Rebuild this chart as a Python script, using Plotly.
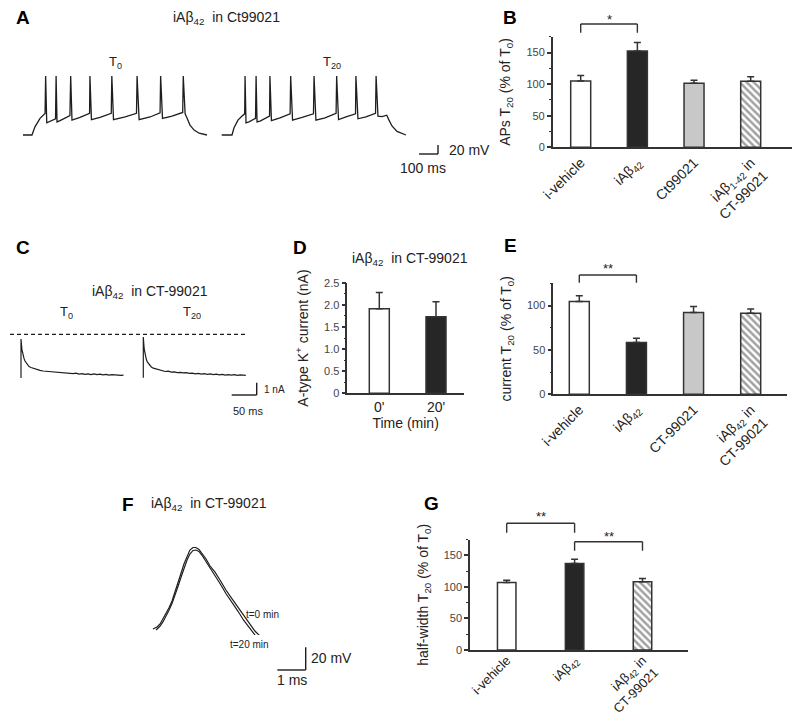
import plotly.graph_objects as go

# The page body adds an 8 px offset; the figure is sized to the remaining window.
OFF = 8
W, H = 800 - OFF, 717 - OFF
FONT = "Liberation Sans, Arial, sans-serif"
TXT = "#222"
AX = "#333"

def fx(px):
    return (px - OFF) / W

def fy(py):
    return 1 - (py - OFF) / H

# ---------------- data ----------------
# Panel A: current-clamp traces (time ms, membrane potential mV)
A1_t = [0, 48, 64, 91, 118, 121, 127, 144, 174, 177, 182, 198, 251, 255, 262, 305, 356, 358, 366, 412,
        472, 475, 484, 546, 607, 610, 621, 680, 733, 736, 746, 797, 854, 857, 867, 877, 893, 915, 942, 984]
A1_v = [-70, -70, -52, -33, -22, 61, -43, -40, -34, 61, -41, -38, -27, 61, -37, -31, -22, 61, -36, -31,
        -22, 61, -36, -30, -22, 61, -36, -30, -21, 61, -33, -28, -20, 61, -23, -32, -48, -59, -66, -70]
A2_t = [0, 55, 66, 87, 109, 123, 125, 130, 146, 181, 184, 189, 205, 256, 258, 266, 312, 366, 369, 379,
        430, 491, 494, 504, 553, 612, 615, 625, 665, 716, 718, 729, 772, 823, 826, 836, 858, 883, 895, 911, 938, 986]
A2_v = [-70, -70, -54, -37, -28, -23, 61, -43, -41, -33, 61, -41, -39, -28, 61, -38, -32, -23, 61, -37,
        -31, -23, 61, -37, -32, -22, 61, -36, -30, -23, 61, -34, -30, -22, 61, -28, -29, -26, -37, -50, -62, -70]

# Panel B: APs T20 (% of T0)
B_labels = ["i-vehicle", "iAβ<sub>42</sub>", "Ct99021", "iAβ<sub>1-42</sub> in<br>CT-99021"]
B_vals = [105, 152.5, 101.5, 104.7]
B_err = [8.7, 13.5, 4.5, 6.8]

# Panel C: A-type K+ current traces (time ms, current nA)
C_t = [0, 0, 1, 2, 4, 6, 8, 12, 16, 20, 26, 32, 38, 44, 50, 56, 62, 68, 74, 80, 86, 92, 98, 104, 110,
       116, 122, 128, 134, 140, 146, 152, 158, 164, 170, 176, 182, 188, 194, 200, 205]
C1_i = [0, 3.17, 2.68, 2.28, 1.87, 1.59, 1.38, 1.10, 0.93, 0.85, 0.76, 0.66, 0.62, 0.57, 0.55, 0.49, 0.52,
        0.45, 0.47, 0.41, 0.44, 0.37, 0.40, 0.35, 0.39, 0.32, 0.36, 0.30, 0.34, 0.28, 0.33, 0.27, 0.31, 0.25,
        0.29, 0.23, 0.28, 0.24, 0.26, 0.22, 0.24]
C2_i = [0.02, 3.33, 2.75, 2.30, 1.85, 1.52, 1.30, 1.05, 0.90, 0.80, 0.72, 0.64, 0.60, 0.53, 0.55, 0.48, 0.50,
        0.44, 0.46, 0.41, 0.43, 0.38, 0.40, 0.34, 0.37, 0.31, 0.35, 0.30, 0.33, 0.28, 0.31, 0.26, 0.30, 0.24,
        0.28, 0.23, 0.27, 0.22, 0.25, 0.21, 0.22]
C_ref = 3.55  # dashed reference level (nA)

# Panel D: A-type K+ current (nA)
D_labels = ["0'", "20'"]
D_vals = [1.91, 1.73]
D_err = [0.37, 0.34]
D_ticks = [0, 0.5, 1.0, 1.5, 2.0, 2.5]
D_ticktext = ["0", "0.5", "1.0", "1.5", "2.0", "2.5"]

# Panel E: current T20 (% of T0)
E_labels = ["i-vehicle", "iAβ<sub>42</sub>", "CT-99021", "iAβ<sub>42</sub> in<br>CT-99021"]
E_vals = [104.5, 58.2, 92.0, 91.4]
E_err = [6.5, 5.0, 6.9, 4.6]

# Panel F: single action potentials (time ms, mV)
F0_t = [0.00, 0.14, 0.25, 0.35, 0.46, 0.56, 0.67, 0.77, 0.88, 0.99, 1.09, 1.20, 1.30, 1.41, 1.51, 1.62, 1.72,
        1.87, 2.01, 2.18, 2.36, 2.57, 2.78, 2.99, 3.20, 3.41, 3.59, 3.77]
F0_v = [-65.0, -63.2, -60.6, -56.2, -51.8, -46.5, -40.4, -33.3, -24.5, -15.7, -7.8, -0.8, 4.5, 6.7, 6.7, 5.0,
        1.9, -3.4, -9.6, -14.8, -21.9, -30.7, -38.2, -45.6, -54.0, -61.5, -66.8, -71.2]
F20_t = [0.11, 0.25, 0.35, 0.46, 0.56, 0.67, 0.77, 0.88, 0.99, 1.09, 1.20, 1.30, 1.41, 1.51, 1.62, 1.72, 1.87,
         2.01, 2.18, 2.36, 2.57, 2.78, 2.99, 3.20, 3.41, 3.56, 3.66]
F20_v = [-65.9, -62.4, -58.8, -54.0, -48.7, -42.6, -36.0, -27.6, -19.2, -11.3, -4.3, 1.0, 4.1, 4.5, 3.2, 0.1,
         -5.6, -11.3, -17.9, -25.0, -33.8, -41.2, -49.2, -57.5, -65.0, -69.4, -72.5]

# Panel G: half-width T20 (% of T0)
G_labels = ["i-vehicle", "iAβ<sub>42</sub>", "iAβ<sub>42</sub> in<br>CT-99021"]
G_vals = [107.0, 137.0, 107.9]
G_err = [3.5, 6.7, 5.3]

# bar styles
FILL4 = ["white", "#262626", "#c8c8c8", "white"]
PAT4 = ["", "", "", "\\"]
FILL3 = ["white", "#262626", "white"]
PAT3 = ["", "", "\\"]

fig = go.Figure()
layout = dict(template="none", width=W, height=H, margin=dict(l=0, r=0, t=0, b=0, autoexpand=False),
              paper_bgcolor="white", plot_bgcolor="rgba(0,0,0,0)", showlegend=False,
              font=dict(family=FONT, color=TXT, size=14))


def akey(kind, n):
    return kind + "axis" + ("" if n == 1 else str(n))


def aref(kind, n):
    return kind + ("" if n == 1 else str(n))


def trace_axes(n, px0, px1, t0, t1, py_lo, py_hi, v_lo, v_hi, pad=6):
    sx = (t1 - t0) / (px1 - px0)
    sy = (v_hi - v_lo) / (py_lo - py_hi)
    layout[akey("x", n)] = dict(domain=[fx(px0 - pad), fx(px1 + pad)],
                                range=[t0 - pad * sx, t1 + pad * sx], automargin=False,
                                visible=False, anchor=aref("y", n), fixedrange=True)
    layout[akey("y", n)] = dict(domain=[fy(py_lo + pad), fy(py_hi - pad)],
                                range=[v_lo - pad * sy, v_hi + pad * sy], automargin=False,
                                visible=False, anchor=aref("x", n), fixedrange=True)


def bar_axes(n, px_left, px_right, c0, clast, ncat, py_bot, py_top, ymax, dtick, mtick,
             labels, ytitle, tickangle=-45, xtitle=None, yticks=None, yticktext=None, xfont=14,
             xstandoff=0):
    sp = (clast - c0) / (ncat - 1)
    layout[akey("x", n)] = dict(domain=[fx(px_left), fx(px_right)],
                                range=[(px_left - c0) / sp, (px_right - c0) / sp],
                                anchor=aref("y", n), showline=True, linecolor=AX, linewidth=1.5,
                                ticks="", showgrid=False, zeroline=False, automargin=False,
                                tickvals=list(range(ncat)), ticktext=labels, tickangle=tickangle,
                                ticklabelstandoff=xstandoff,
                                tickfont=dict(size=xfont, color=TXT, family=FONT),
                                title=dict(text=xtitle or "", font=dict(size=14), standoff=2),
                                fixedrange=True)
    ya = dict(domain=[fy(py_bot), fy(py_top)], range=[0, ymax],
              anchor=aref("x", n), showline=True, linecolor=AX, linewidth=1.5,
              ticks="outside", ticklen=4, tickwidth=1.5, tickcolor=AX,
              dtick=dtick, tick0=0, automargin=False,
              minor=dict(ticks="outside", ticklen=2, tickwidth=1.2,
                         tickcolor=AX, dtick=mtick, tick0=0, showgrid=False),
              tickfont=dict(size=11, color="#444", family=FONT),
              showgrid=False, zeroline=False,
              title=dict(text=ytitle, font=dict(size=14), standoff=12),
              fixedrange=True)
    if yticks is not None:
        ya["tickvals"] = yticks
        ya["ticktext"] = yticktext
    layout[akey("y", n)] = ya
    return 20 / sp


def add_bars(n, vals, errs, fills, pats, width):
    fig.add_trace(go.Bar(
        x=list(range(len(vals))), y=vals, width=width,
        xaxis=aref("x", n), yaxis=aref("y", n),
        marker=dict(color=fills, line=dict(color=AX, width=1.5),
                    pattern=dict(shape=pats, fillmode="overlay", fgcolor="#000",
                                 size=5, solidity=0.5)),
        error_y=dict(type="data", symmetric=False, array=errs, arrayminus=[0] * len(errs),
                     color=AX, thickness=1.5, width=3.5),
        hoverinfo="skip"))


def add_line(n, xs, ys, width=1.3):
    fig.add_trace(go.Scatter(x=xs, y=ys, mode="lines", xaxis=aref("x", n), yaxis=aref("y", n),
                             line=dict(color="#1e1e1e", width=width), hoverinfo="skip"))


# ---- Panel A traces
trace_axes(1, 23, 207, 0, 984, 135, 76, -70, 61)
trace_axes(2, 221.7, 406, 0, 986, 135, 76, -70, 61)
add_line(1, A1_t, A1_v)
add_line(2, A2_t, A2_v)

# ---- Panel B bars
wB = bar_axes(3, 552.7, 797, 580.7, 750.7, 4, 147.3, 36.7, 175, 50, 25, B_labels,
              "APs T<sub>20</sub> (% of T<sub>0</sub>)")
add_bars(3, B_vals, B_err, FILL4, PAT4, wB)

# ---- Panel C traces
trace_axes(4, 21, 123.5, 0, 205, 378, 334.3, 0, C_ref)
trace_axes(5, 143.3, 245.8, 0, 205, 378, 334.3, 0, C_ref)
add_line(4, C_t, C1_i, 1.2)
add_line(5, C_t, C2_i, 1.2)

# ---- Panel D bars
wD = bar_axes(6, 347.3, 464, 379.3, 436, 2, 393.3, 282.7, 2.5, 0.5, 0.25, D_labels,
              "A-type K<sup>+</sup> current (nA)", tickangle=0, xtitle="Time (min)",
              yticks=D_ticks, yticktext=D_ticktext)
add_bars(6, D_vals, D_err, ["white", "#262626"], ["", ""], wD)

# ---- Panel E bars
wE = bar_axes(7, 553.3, 786.7, 579.3, 750.7, 4, 394.3, 283.3, 125, 50, 25, E_labels,
              "current T<sub>20</sub> (% of T<sub>0</sub>)")
add_bars(7, E_vals, E_err, FILL4, PAT4, wE)

# ---- Panel F traces
trace_axes(8, 153, 260, 0, 3.77, 629, 547.5, -65, 6.7)
add_line(8, F0_t, F0_v, 1.2)
add_line(8, F20_t, F20_v, 1.2)

# ---- Panel G bars
wG = bar_axes(9, 470, 688.3, 506.7, 642.5, 3, 650, 539.5, 175, 50, 25, G_labels,
              "half-width T<sub>20</sub> (% of T<sub>0</sub>)", xfont=13, xstandoff=-4)
add_bars(9, G_vals, G_err, FILL3, PAT3, wG * 18.5 / 20)

# ---------------- annotations / decorations ----------------
ann = []
shapes = []


def text(px, py, s, size=14, xanchor="center", bold=False, color=TXT):
    ann.append(dict(x=fx(px), y=fy(py), xref="paper", yref="paper", text=("<b>%s</b>" % s) if bold else s,
                    showarrow=False, xanchor=xanchor, yanchor="middle", borderpad=0,
                    font=dict(size=size, color=color, family=FONT)))


def pline(x0, y0, x1, y1, dash="solid", width=1.4):
    shapes.append(dict(type="line", xref="paper", yref="paper", x0=fx(x0), y0=fy(y0), x1=fx(x1), y1=fy(y1),
                       line=dict(color="#1e1e1e", width=width, dash=dash)))


def bracket(n, i0, i1, py_top, py_leg, label, py_label):
    xr = aref("x", n)
    for (a, b, c, d) in [(i0, py_top, i1, py_top), (i0, py_top, i0, py_leg), (i1, py_top, i1, py_leg)]:
        shapes.append(dict(type="line", xref=xr, yref="paper", x0=a, y0=fy(b), x1=c, y1=fy(d),
                           line=dict(color=AX, width=1.4)))
    ann.append(dict(x=(i0 + i1) / 2, y=fy(py_label), xref=xr, yref="paper", text=label, showarrow=False,
                    xanchor="center", yanchor="middle", borderpad=0,
                    font=dict(size=13, color=TXT, family=FONT)))


# panel letters
for (lx, ly, s) in [(15, 18, "A"), (502, 18, "B"), (15, 248, "C"), (292, 248, "D"), (503, 246, "E"),
                    (121, 504, "F"), (423, 503, "G")]:
    text(lx, ly, s, size=19, xanchor="left", bold=True, color="black")

# titles
text(227, 18, "iAβ<sub>42</sub>  in Ct99021")
text(115, 63, "T<sub>0</sub>", size=13)
text(332, 63, "T<sub>20</sub>", size=13)
text(150, 292, "iAβ<sub>42</sub>  in CT-99021")
text(67, 312.5, "T<sub>0</sub>", size=13)
text(192, 312.5, "T<sub>20</sub>", size=13)
text(410, 259, "iAβ<sub>42</sub>  in CT-99021")
text(209, 504, "iAβ<sub>42</sub>  in CT-99021")
text(245, 614, "t=0 min", size=10, xanchor="left")
text(229, 644.5, "t=20 min", size=10, xanchor="left")

# scale bars
pline(438, 145, 438, 154)
pline(419, 154, 438, 154)
text(448, 150, "20 mV", xanchor="left")
text(447, 168, "100 ms", xanchor="right")

pline(256.7, 382.7, 256.7, 395)
pline(231.7, 395, 256.7, 395)
text(263, 389, "1 nA", size=10, xanchor="left")
text(247.5, 411, "50 ms", size=11)

pline(305.7, 647.3, 305.7, 670)
pline(277.3, 670, 305.7, 670)
text(310, 658, "20 mV", xanchor="left")
text(292, 680, "1 ms")

# dashed reference line in C
pline(10, 334.3, 248, 334.3, dash="4px,3px", width=1.3)

# significance brackets
bracket(3, 0, 1, 24, 32.7, "*", 20)
bracket(7, 0, 1, 275, 282.7, "**", 268)
bracket(9, 0, 1, 523.3, 532.7, "**", 516.7)
bracket(9, 1, 2, 541.7, 550.7, "**", 536.7)

layout["annotations"] = ann
layout["shapes"] = shapes
fig.update_layout(**layout)
fig.write_html("out.html")
